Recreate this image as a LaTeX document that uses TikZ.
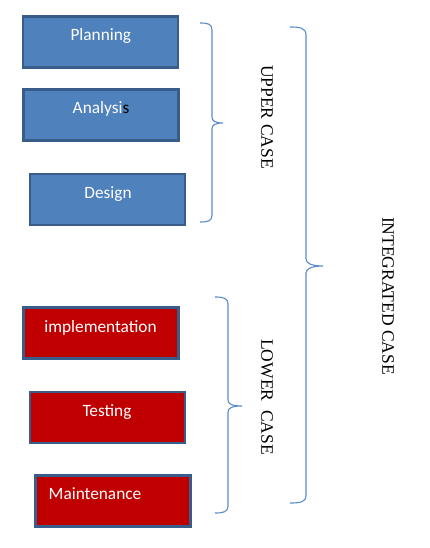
\documentclass[tikz,border=0pt]{standalone}
\usepackage{fontspec}
\setmainfont{Liberation Serif}
\newfontfamily\boxfont{Carlito}
\begin{document}
\begin{tikzpicture}[x=1pt,y=-1pt,
  bluebox/.style={draw=boxedge,fill=boxblue,line width=2.4pt,minimum width=155pt,minimum height=51pt,inner sep=0pt},
  redbox/.style={draw=boxedge,fill=boxred,line width=2.4pt,minimum width=155pt,minimum height=51pt,inner sep=0pt},
  boxtxt/.style={text=white,font=\boxfont\fontsize{17.3}{20}\selectfont,anchor=base,inner sep=0pt},
  sidetxt/.style={font=\fontsize{17.5}{20}\selectfont,rotate=-90,inner sep=0pt},
  bracepath/.style={draw=bracecol,line width=1.1pt}]
\definecolor{boxblue}{HTML}{4F81BD}
\definecolor{boxred}{HTML}{C00000}
\definecolor{boxedge}{HTML}{385D8A}
\definecolor{bracecol}{HTML}{5B8BC9}
\useasboundingbox[fill=white] (0,0) rectangle (429,548);
% boxes
\node[bluebox] (plan) at (100.5,42) {};
\node[bluebox] (anal) at (101,115) {};
\node[bluebox] (desi) at (107.5,199.5) {};
\node[redbox] (impl) at (101,333) {};
\node[redbox] (test) at (107.5,417.5) {};
\node[redbox] (main) at (113,501) {};
% texts
\node[boxtxt] (tplan) at (100.8,41) {Planning};
\node[boxtxt] (tanal) at (101,113.5) {Analysi{\color{black}s}};
\node[boxtxt] (tdesi) at (108,198.5) {Design};
\node[boxtxt] (timpl) at (100.5,332.5) {implementation};
\node[boxtxt] (ttest) at (107,416.5) {Testing};
\node[boxtxt] (tmain) at (95,499.5) {Maintenance};
% braces
\draw[bracepath] (200,23) .. controls (208,23) and (212,24) .. (212,30) -- (212,117)
  .. controls (212,121) and (215,123) .. (223,123)
  .. controls (215,123) and (212,125) .. (212,129) -- (212,215)
  .. controls (212,221) and (208,222) .. (200,222);
\draw[bracepath] (215,297) .. controls (223,297) and (228,298) .. (228,304) -- (228,400)
  .. controls (228,404) and (232,406) .. (242,406)
  .. controls (232,406) and (228,408) .. (228,412) -- (228,506)
  .. controls (228,512) and (223,513) .. (215,513);
\draw[bracepath] (290,27) .. controls (300,27) and (306,28) .. (306,35) -- (306,259)
  .. controls (306,263) and (311,266) .. (323,266)
  .. controls (311,266) and (306,269) .. (306,273) -- (306,496)
  .. controls (306,502) and (300,503) .. (290,503);
% side labels
\node[sidetxt] (upper) at (267,117) {UPPER CASE};
\node[sidetxt] (lower) at (267,397) {LOWER\ \ CASE};
\node[sidetxt] (integ) at (388,296) {INTEGRATED CASE};
\end{tikzpicture}
\end{document}
